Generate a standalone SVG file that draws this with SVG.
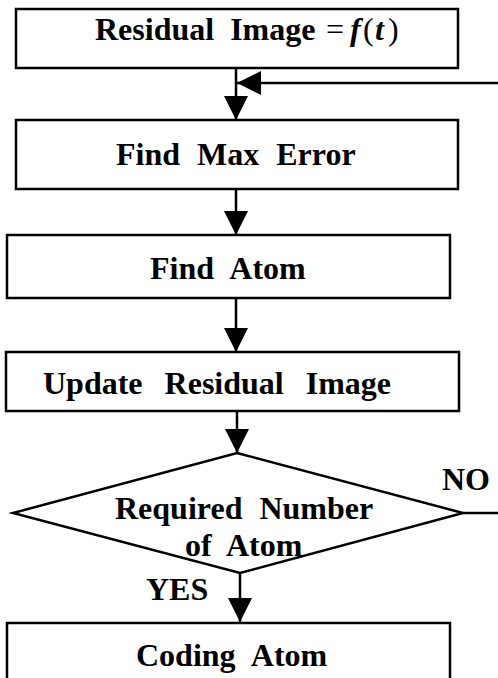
<svg xmlns="http://www.w3.org/2000/svg" width="498" height="678" viewBox="0 0 498 678">
  <style>
    .box { fill: #fff; stroke: #000; stroke-width: 2.5; }
    .edge { fill: none; stroke: #000; stroke-width: 2.5; }
    .lbl { font-family: "Liberation Serif", "Times New Roman", serif; font-weight: bold; font-size: 32px; fill: #000; }
    .math { font-family: "Liberation Serif", "Times New Roman", serif; font-size: 32px; fill: #000; }
  </style>
  <defs>
    <marker id="arrow" markerUnits="userSpaceOnUse" markerWidth="26" markerHeight="26" refX="24" refY="12" orient="auto">
      <path d="M0,0 L24,12 L0,24 z" fill="#000"/>
    </marker>
  </defs>
  <rect width="498" height="678" fill="#fff"/>

  <g id="connectors">
    <line class="edge" x1="236" y1="68" x2="236" y2="120" marker-end="url(#arrow)"/>
    <line class="edge" x1="498" y1="83" x2="237" y2="83" marker-end="url(#arrow)"/>
    <line class="edge" x1="236" y1="189" x2="236" y2="235" marker-end="url(#arrow)"/>
    <line class="edge" x1="236" y1="298" x2="236" y2="352" marker-end="url(#arrow)"/>
    <line class="edge" x1="237" y1="411" x2="237" y2="453" marker-end="url(#arrow)"/>
    <line class="edge" x1="240" y1="573" x2="240" y2="622" marker-end="url(#arrow)"/>
    <line class="edge" x1="463" y1="513" x2="498" y2="513"/>
  </g>

  <g id="residual-image">
    <rect class="box" x="16" y="9" width="442" height="59"/>
    <text class="lbl" x="95" y="40" word-spacing="8">Residual Image</text>
    <text class="math" x="326" y="40">=</text>
    <text class="lbl" x="350" y="40" font-style="italic">f</text>
    <text class="math" x="363" y="40">(</text>
    <text class="lbl" x="375" y="40" font-style="italic">t</text>
    <text class="math" x="388" y="40">)</text>
  </g>

  <g id="find-max-error">
    <rect class="box" x="16" y="120" width="442" height="69"/>
    <text class="lbl" x="116" y="165" word-spacing="9">Find Max Error</text>
  </g>

  <g id="find-atom">
    <rect class="box" x="7" y="235" width="443" height="63"/>
    <text class="lbl" x="150" y="279" word-spacing="9">Find Atom</text>
  </g>

  <g id="update-residual">
    <rect class="box" x="6" y="352" width="453" height="59"/>
    <text class="lbl" x="43" y="394" word-spacing="14">Update Residual Image</text>
  </g>

  <g id="required-number">
    <polygon class="box" points="237,453 463,513 240,573 13,513"/>
    <text class="lbl" x="115" y="519" word-spacing="9">Required Number</text>
    <text class="lbl" x="185" y="556" word-spacing="8">of Atom</text>
    <text class="lbl" x="442" y="490">NO</text>
    <text class="lbl" x="146" y="600">YES</text>
  </g>

  <g id="coding-atom">
    <rect class="box" x="7" y="623" width="443" height="70"/>
    <text class="lbl" x="136" y="666" word-spacing="9">Coding Atom</text>
  </g>
</svg>
